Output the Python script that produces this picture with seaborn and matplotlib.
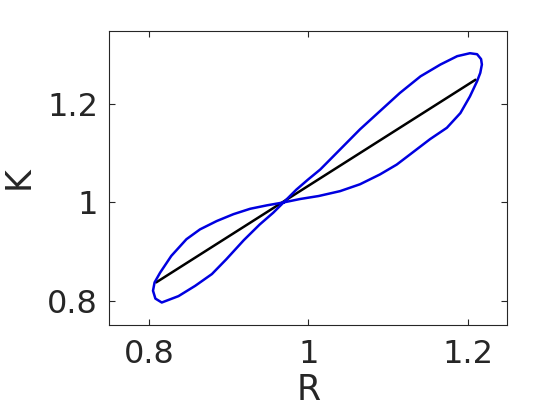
import matplotlib
matplotlib.use("Agg")
import matplotlib.pyplot as plt
import seaborn as sns
import pandas as pd

# figure-eight loop, in drawing order
loop_R = [0.969, 0.985, 1.000, 1.015, 1.040, 1.065, 1.090, 1.115, 1.141, 1.166,
          1.187, 1.203, 1.212, 1.217, 1.218, 1.216, 1.212, 1.203, 1.191, 1.174,
          1.153, 1.128, 1.111, 1.090, 1.065, 1.040, 1.013, 0.990, 0.969,
          0.948, 0.927, 0.906, 0.885, 0.864, 0.847, 0.828, 0.814, 0.807, 0.805,
          0.808, 0.816, 0.837, 0.858, 0.879, 0.897, 0.919, 0.939, 0.956, 0.969]
loop_K = [1.000, 1.026, 1.047, 1.067, 1.108, 1.149, 1.186, 1.223, 1.257, 1.281,
          1.298, 1.304, 1.302, 1.292, 1.281, 1.264, 1.247, 1.216, 1.182, 1.152,
          1.129, 1.098, 1.077, 1.057, 1.037, 1.023, 1.013, 1.007, 1.000,
          0.994, 0.987, 0.976, 0.962, 0.945, 0.925, 0.891, 0.857, 0.837, 0.820,
          0.804, 0.796, 0.809, 0.830, 0.854, 0.884, 0.923, 0.955, 0.979, 1.000]

line_R = [0.809, 1.210]
line_K = [0.837, 1.250]

x_ticks = [0.8, 1, 1.2]
x_labels = ["0.8", "1", "1.2"]
y_ticks = [0.8, 1, 1.2]
y_labels = ["0.8", "1", "1.2"]

sns.set_style("white")
plt.rcParams['font.family'] = ['DejaVu Sans']

fig = plt.figure(figsize=(5.6, 4.2), dpi=100)
ax = fig.add_axes([0.195, 0.226, 0.711, 0.701])

df_loop = pd.DataFrame({'R': loop_R, 'K': loop_K})
df_line = pd.DataFrame({'R': line_R, 'K': line_K})
sns.lineplot(data=df_line, x='R', y='K', sort=False, estimator=None, errorbar=None,
             color='black', linewidth=1.8, ax=ax)
sns.lineplot(data=df_loop, x='R', y='K', sort=False, estimator=None, errorbar=None,
             color='#0000e0', linewidth=1.8, ax=ax)

ax.set_xlim(0.75, 1.25)
ax.set_ylim(0.75, 1.35)
ax.set_xticks(x_ticks)
ax.set_xticklabels(x_labels)
ax.set_yticks(y_ticks)
ax.set_yticklabels(y_labels)

txt = '#262626'
ax.tick_params(direction='in', length=4, width=0.8, colors=txt, labelsize=23,
               top=True, right=True, bottom=True, left=True)
ax.tick_params(axis='x', pad=10)
ax.tick_params(axis='y', pad=8)
for s in ax.spines.values():
    s.set_visible(True)
    s.set_color(txt)
    s.set_linewidth(0.8)

ax.set_xlabel('R', fontsize=25, color=txt, labelpad=2)
ax.set_ylabel('K', fontsize=25, color=txt, labelpad=8)

fig.savefig('out.png', dpi=100)
